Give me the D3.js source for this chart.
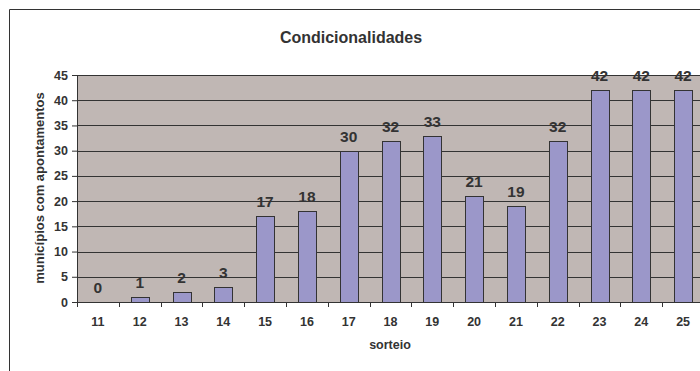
<!DOCTYPE html>
<html>
<head>
<meta charset="utf-8">
<script src="https://cdn.jsdelivr.net/npm/d3@7"></script>
<style>
  body { margin: 0; background: #fff; overflow: hidden; }
  svg { display: block; font-family: "Liberation Sans", Arial, sans-serif; }
  .axis text { font-family: "Liberation Sans", Arial, sans-serif; font-size: 12.5px; font-weight: bold; fill: #333; }
</style>
</head>
<body>
<div id="chart"></div>
<script>
// Data
const sorteios = ["11", "12", "13", "14", "15", "16", "17", "18", "19", "20", "21", "22", "23", "24", "25"];
const municipios = [0, 1, 2, 3, 17, 18, 30, 32, 33, 21, 19, 32, 42, 42, 42];
const yTicks = [0, 5, 10, 15, 20, 25, 30, 35, 40, 45];

const width = 700;
const height = 371;
// plot area runs a little past the right edge, as in the original
const margin = { top: 75, right: -4, bottom: 69, left: 77 };
const innerWidth = width - margin.left - margin.right;
const innerHeight = height - margin.top - margin.bottom;

const svg = d3.select("#chart")
    .append("svg")
    .attr("width", width)
    .attr("height", height);

// outer chart frame
svg.append("path")
    .attr("d", `M9.5,${height} V9.5 H${width}`)
    .attr("fill", "none")
    .attr("stroke", "#333")
    .attr("stroke-width", 1);

const innerChart = svg.append("g")
    .attr("transform", `translate(${margin.left}, ${margin.top})`);

const xScale = d3.scaleBand()
    .domain(sorteios)
    .range([0, innerWidth])
    .paddingInner(0.57)
    .paddingOuter(0.285);

const yScale = d3.scaleLinear()
    .domain([0, 45])
    .range([innerHeight, 0]);

// plot background
innerChart.append("rect")
    .attr("x", 0)
    .attr("y", 0)
    .attr("width", innerWidth)
    .attr("height", innerHeight)
    .attr("fill", "#c0b7b4");

// grid
innerChart.append("g")
    .selectAll("line")
    .data(yTicks.filter(d => d > 0))
    .join("line")
    .attr("x1", 0)
    .attr("x2", innerWidth)
    .attr("y1", d => Math.round(yScale(d)) + 0.5)
    .attr("y2", d => Math.round(yScale(d)) + 0.5)
    .attr("stroke", "#333")
    .attr("stroke-width", 1);

// bars
innerChart.selectAll(".bar")
    .data(municipios)
    .join("rect")
    .attr("class", "bar")
    .attr("x", (d, i) => Math.round(xScale(sorteios[i])) + 0.5)
    .attr("y", d => Math.round(yScale(d)) + 0.5)
    .attr("width", Math.round(xScale.bandwidth()))
    .attr("height", d => Math.round(yScale(0)) - Math.round(yScale(d)))
    .attr("fill", "#9b97c9")
    .attr("stroke", "#333")
    .attr("stroke-width", 1);

// left axis
const leftAxis = d3.axisLeft(yScale)
    .tickValues(yTicks)
    .tickSize(5)
    .tickPadding(4);

innerChart.append("g")
    .attr("class", "axis axis-y")
    .call(leftAxis)
    .call(g => g.selectAll("line, path").attr("stroke", "#333"));

// bottom axis: labels centered, tick marks on category boundaries
const bottomAxis = d3.axisBottom(xScale)
    .tickSize(0)
    .tickPadding(15);

innerChart.append("g")
    .attr("class", "axis axis-x")
    .attr("transform", `translate(0, ${innerHeight})`)
    .call(bottomAxis)
    .call(g => g.select(".domain").remove());

const gap = (xScale.step() - xScale.bandwidth()) / 2;
innerChart.append("g")
    .selectAll("line")
    .data(sorteios)
    .join("line")
    .attr("x1", d => Math.round(xScale(d) - gap) + 0.5)
    .attr("x2", d => Math.round(xScale(d) - gap) + 0.5)
    .attr("y1", innerHeight)
    .attr("y2", innerHeight + 5)
    .attr("stroke", "#333");

innerChart.append("line")
    .attr("x1", 0)
    .attr("x2", innerWidth)
    .attr("y1", Math.round(innerHeight) + 0.5)
    .attr("y2", Math.round(innerHeight) + 0.5)
    .attr("stroke", "#333");

// data labels
innerChart.selectAll(".bar-label")
    .data(municipios)
    .join("text")
    .attr("class", "bar-label")
    .attr("x", (d, i) => xScale(sorteios[i]) + xScale.bandwidth() / 2)
    .attr("y", d => yScale(d) - 9)
    .attr("text-anchor", "middle")
    .attr("font-size", "15.5px")
    .attr("font-weight", "bold")
    .attr("fill", "#333")
    .text(d => d);

// titles
svg.append("text")
    .attr("x", 351)
    .attr("y", 43)
    .attr("text-anchor", "middle")
    .attr("font-size", "16px")
    .attr("font-weight", "bold")
    .attr("fill", "#333")
    .text("Condicionalidades");

svg.append("text")
    .attr("transform", "translate(44, 188) rotate(-90)")
    .attr("text-anchor", "middle")
    .attr("font-size", "13px")
    .attr("font-weight", "bold")
    .attr("fill", "#333")
    .text("municípios com apontamentos");

svg.append("text")
    .attr("x", 390)
    .attr("y", 349)
    .attr("text-anchor", "middle")
    .attr("font-size", "12.5px")
    .attr("font-weight", "bold")
    .attr("fill", "#333")
    .text("sorteio");
</script>
</body>
</html>
